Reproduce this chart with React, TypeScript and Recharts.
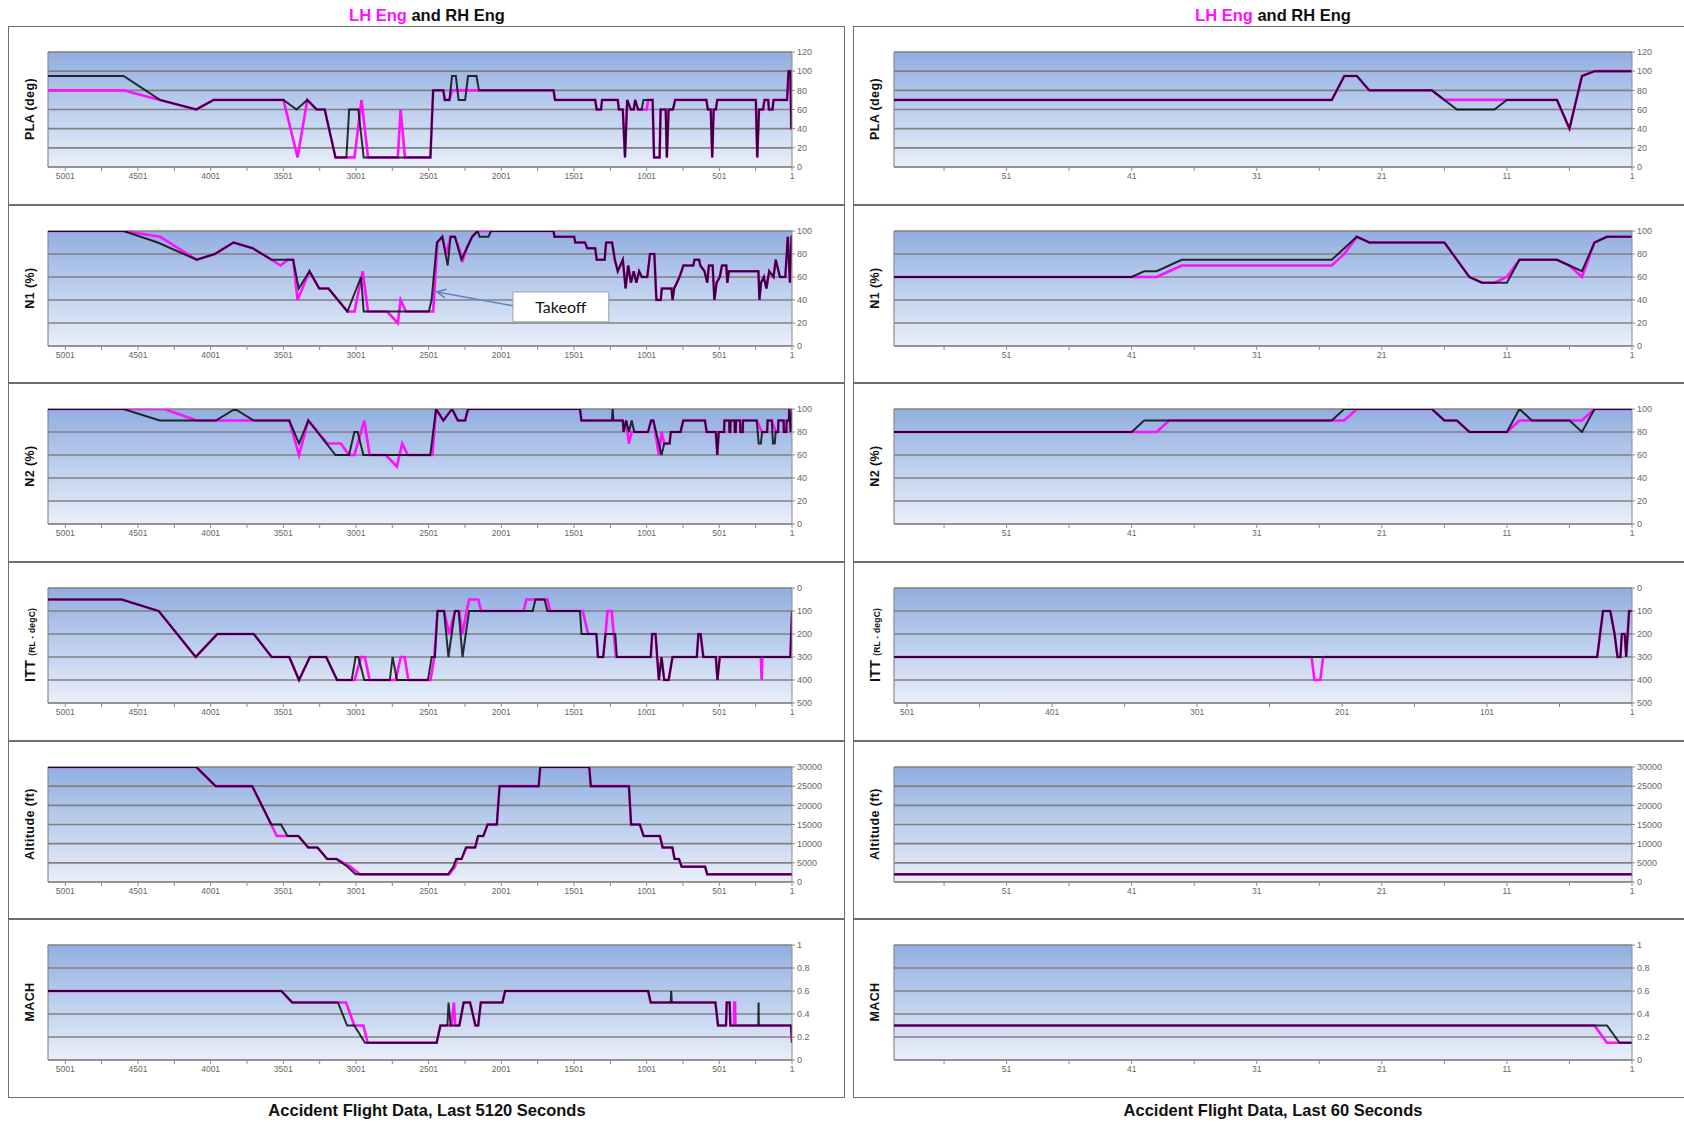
import React from 'react'
import { LineChart, Line, XAxis, YAxis, CartesianGrid, ReferenceLine, ReferenceArea } from 'recharts'

// x ticks (seconds before end of record)
const LEFT_TICKS = [5001, 4751, 4501, 4251, 4001, 3751, 3501, 3251, 3001, 2751, 2501, 2251, 2001, 1751, 1501, 1251, 1001, 751, 501, 251, 1]
const LEFT_LABELS = [5001, 4501, 4001, 3501, 3001, 2501, 2001, 1501, 1001, 501, 1]
const RIGHT_TICKS = [56, 51, 46, 41, 36, 31, 26, 21, 16, 11, 6, 1]
const RIGHT_LABELS = [51, 41, 31, 21, 11, 1]
const ITT_R_TICKS = [501, 451, 401, 351, 301, 251, 201, 151, 101, 51, 1]
const ITT_R_LABELS = [501, 401, 301, 201, 101, 1]

// y ticks
const PLA_TICKS = [0, 20, 40, 60, 80, 100, 120]
const PCT_TICKS = [0, 20, 40, 60, 80, 100]
const ITT_TICKS = [0, 100, 200, 300, 400, 500]
const ALT_TICKS = [0, 5000, 10000, 15000, 20000, 25000, 30000]
const MACH_TICKS = [0, 0.2, 0.4, 0.6, 0.8, 1]

// series: flat lists of [t, value] pairs. LH = magenta, RH = black
// --- last 5120 seconds ---
const PLA_L_LH = [5120, 80, 4600, 80, 4350, 70, 4100, 60, 3980, 70, 3500, 70, 3403, 10, 3336, 70, 3272, 60, 3216, 60, 3142, 10, 3011, 10, 2963, 70, 2918, 10, 2713, 10, 2694, 60, 2664, 10, 2489, 10, 2470, 80, 2400, 80, 2390, 70, 2358, 70, 2340, 80, 1642, 80, 1631, 70, 1355, 70, 1345, 60, 1315, 60, 1308, 70, 1200, 70, 1192, 60, 1165, 60, 1150, 10, 1135, 70, 1110, 60, 1090, 60, 1080, 70, 1060, 60, 1000, 60, 990, 70, 960, 70, 950, 10, 912, 10, 905, 60, 870, 60, 862, 10, 850, 60, 820, 60, 805, 70, 590, 70, 580, 60, 560, 60, 550, 10, 540, 60, 525, 60, 515, 70, 250, 70, 240, 10, 228, 60, 200, 60, 190, 70, 165, 70, 160, 60, 135, 60, 128, 70, 35, 70, 25, 100, 12, 100, 6, 40, 1, 40]
const PLA_L_RH = [5120, 95, 4600, 95, 4350, 70, 4100, 60, 3980, 70, 3500, 70, 3410, 60, 3336, 70, 3272, 60, 3216, 60, 3142, 10, 3067, 10, 3048, 60, 2985, 60, 2948, 10, 2489, 10, 2470, 80, 2400, 80, 2390, 70, 2358, 70, 2340, 95, 2314, 95, 2295, 70, 2250, 70, 2230, 95, 2172, 95, 2155, 80, 1642, 80, 1631, 70, 1355, 70, 1345, 60, 1315, 60, 1308, 70, 1200, 70, 1192, 60, 1165, 60, 1150, 10, 1135, 70, 1110, 60, 1090, 60, 1080, 70, 1060, 60, 1035, 60, 1023, 70, 960, 70, 950, 10, 912, 10, 905, 60, 870, 60, 862, 10, 850, 60, 820, 60, 805, 70, 590, 70, 580, 60, 560, 60, 550, 10, 540, 60, 525, 60, 515, 70, 250, 70, 240, 10, 228, 60, 200, 60, 190, 70, 165, 70, 160, 60, 135, 60, 128, 70, 35, 70, 25, 100, 12, 100, 6, 40, 1, 60]

const N1_TAIL = [1642, 100, 1635, 95, 1500, 95, 1492, 90, 1425, 90, 1410, 85, 1355, 85, 1345, 75, 1290, 75, 1280, 90, 1239, 90, 1220, 75, 1200, 65, 1165, 75, 1146, 50, 1128, 70, 1109, 55, 1090, 65, 1072, 55, 1053, 65, 1034, 60, 997, 60, 978, 80, 948, 80, 934, 40, 904, 40, 897, 50, 830, 50, 823, 40, 812, 50, 793, 55, 775, 60, 748, 70, 680, 70, 672, 75, 640, 75, 632, 70, 603, 65, 584, 55, 573, 70, 547, 70, 535, 40, 520, 55, 498, 60, 483, 70, 453, 70, 446, 55, 435, 65, 232, 65, 225, 40, 214, 55, 195, 60, 177, 50, 158, 65, 128, 60, 113, 75, 84, 60, 47, 60, 30, 95, 15, 55, 5, 95, 1, 95]
const N1_L_LH = [5120, 100, 4600, 100, 4350, 95, 4097, 75, 3973, 80, 3843, 90, 3712, 85, 3581, 75, 3520, 70, 3470, 75, 3433, 75, 3403, 40, 3321, 65, 3254, 50, 3190, 50, 3060, 30, 3011, 30, 2955, 65, 2918, 30, 2787, 30, 2713, 20, 2694, 40, 2657, 30, 2470, 30, 2440, 90, 2407, 95, 2380, 80, 2350, 95, 2320, 95, 2265, 75, 2239, 85, 2202, 95, 2164, 100, ...N1_TAIL]
const N1_L_RH = [5120, 100, 4600, 100, 4365, 90, 4097, 75, 3973, 80, 3843, 90, 3712, 85, 3581, 75, 3433, 75, 3395, 50, 3321, 65, 3254, 50, 3190, 50, 3060, 30, 2966, 60, 2948, 30, 2500, 30, 2481, 40, 2444, 90, 2407, 95, 2370, 70, 2350, 95, 2320, 95, 2276, 75, 2239, 85, 2202, 95, 2164, 100, 2150, 95, 2090, 95, 2071, 100, ...N1_TAIL]

const N2_L_LH = [5120, 100, 4601, 100, 4320, 100, 4097, 90, 3704, 90, 3460, 90, 3393, 60, 3329, 90, 3198, 70, 3105, 70, 3049, 60, 3012, 60, 2944, 90, 2907, 60, 2795, 60, 2720, 50, 2683, 70, 2645, 60, 2475, 60, 2450, 100, 2400, 90, 2340, 100, 2300, 90, 2250, 90, 2230, 100, 1460, 100, 1450, 90, 1165, 90, 1160, 80, 1142, 90, 1123, 70, 1104, 80, 992, 80, 970, 90, 955, 90, 917, 60, 899, 80, 880, 70, 843, 70, 835, 80, 768, 80, 749, 90, 600, 90, 588, 80, 525, 80, 515, 60, 505, 80, 468, 80, 466, 90, 433, 90, 431, 80, 426, 80, 424, 90, 396, 90, 394, 80, 388, 80, 386, 90, 358, 90, 356, 80, 340, 80, 338, 90, 244, 90, 207, 80, 172, 80, 169, 90, 140, 90, 113, 80, 97, 80, 95, 90, 59, 90, 57, 80, 40, 80, 38, 90, 22, 90, 20, 100, 10, 80, 1, 80]
const N2_L_RH = [5120, 100, 4601, 100, 4351, 90, 3965, 90, 3834, 100, 3704, 90, 3460, 90, 3393, 70, 3329, 90, 3142, 60, 3049, 60, 3012, 80, 2990, 80, 2950, 60, 2490, 60, 2480, 70, 2450, 100, 2400, 90, 2340, 100, 2300, 90, 2250, 90, 2230, 100, 1460, 100, 1450, 90, 1240, 90, 1235, 100, 1230, 90, 1165, 90, 1160, 80, 1142, 90, 1123, 80, 1104, 90, 1086, 80, 992, 80, 970, 90, 955, 90, 917, 70, 899, 60, 880, 70, 843, 70, 835, 80, 768, 80, 749, 90, 600, 90, 588, 80, 525, 80, 515, 60, 505, 80, 468, 80, 466, 90, 433, 90, 431, 80, 426, 80, 424, 90, 396, 90, 394, 80, 388, 80, 386, 90, 358, 90, 356, 80, 340, 80, 338, 90, 244, 90, 230, 70, 215, 70, 207, 80, 172, 80, 169, 90, 140, 90, 132, 70, 120, 70, 113, 80, 97, 80, 95, 90, 59, 90, 57, 80, 40, 80, 38, 90, 22, 90, 20, 100, 10, 80, 1, 100]

const ITT_HEAD = [5120, 50, 4612, 50, 4358, 100, 4104, 300, 3955, 200, 3704, 200, 3581, 300, 3460, 300, 3393, 400, 3318, 300, 3206, 300, 3131, 400, 3030, 400]
const ITT_L_LH = [...ITT_HEAD, 3010, 400, 2966, 300, 2940, 300, 2907, 400, 2728, 400, 2693, 300, 2666, 300, 2641, 400, 2488, 400, 2462, 300, 2440, 100, 2395, 100, 2360, 200, 2320, 100, 2290, 100, 2268, 200, 2240, 100, 2222, 50, 2159, 50, 2140, 100, 1848, 100, 1829, 50, 1684, 50, 1665, 100, 1441, 100, 1404, 200, 1347, 200, 1336, 300, 1300, 300, 1284, 200, 1270, 100, 1242, 100, 1212, 300, 973, 300, 963, 200, 940, 200, 917, 400, 899, 300, 880, 400, 850, 400, 823, 300, 656, 300, 645, 200, 630, 200, 611, 300, 525, 300, 514, 400, 498, 300, 215, 300, 210, 400, 205, 300, 12, 300, 1, 100]
const ITT_L_RH = [...ITT_HEAD, 3004, 300, 2985, 300, 2944, 400, 2768, 400, 2749, 300, 2719, 400, 2506, 400, 2480, 300, 2458, 300, 2440, 100, 2395, 100, 2365, 300, 2320, 100, 2295, 100, 2268, 300, 2223, 100, 1785, 100, 1766, 50, 1703, 50, 1684, 100, 1460, 100, 1449, 200, 1347, 200, 1336, 300, 1300, 300, 1284, 200, 1217, 200, 1206, 300, 973, 300, 963, 200, 940, 200, 917, 400, 899, 300, 880, 400, 850, 400, 823, 300, 656, 300, 645, 200, 630, 200, 611, 300, 525, 300, 514, 400, 498, 300, 12, 300, 1, 100]

const ALT_L_LH = [5120, 30000, 4100, 30000, 3966, 25000, 3715, 25000, 3584, 15000, 3546, 12000, 3472, 12000, 3397, 12000, 3330, 9000, 3266, 9000, 3199, 6000, 3135, 6000, 3040, 4000, 2975, 2000, 2360, 2000, 2320, 4000, 2305, 6000, 2275, 6000, 2240, 9000, 2181, 9000, 2160, 12000, 2125, 12000, 2095, 15000, 2032, 15000, 2013, 25000, 1744, 25000, 1733, 30000, 1396, 30000, 1385, 25000, 1123, 25000, 1108, 15000, 1048, 15000, 1022, 12000, 910, 12000, 891, 9000, 824, 9000, 809, 6000, 779, 6000, 760, 4000, 599, 4000, 584, 2000, 1, 2000]
const ALT_L_RH = [5120, 30000, 4100, 30000, 3966, 25000, 3715, 25000, 3584, 15000, 3517, 15000, 3472, 12000, 3397, 12000, 3330, 9000, 3266, 9000, 3199, 6000, 3135, 6000, 3060, 4000, 3004, 2000, 2368, 2000, 2331, 4000, 2312, 6000, 2275, 6000, 2245, 9000, 2181, 9000, 2162, 12000, 2125, 12000, 2095, 15000, 2032, 15000, 2013, 25000, 1744, 25000, 1733, 30000, 1396, 30000, 1385, 25000, 1123, 25000, 1108, 15000, 1048, 15000, 1022, 12000, 910, 12000, 891, 9000, 824, 9000, 809, 6000, 779, 6000, 760, 4000, 599, 4000, 584, 2000, 1, 2000]

const MACH_L_LH = [5120, 0.6, 3514, 0.6, 3440, 0.5, 3069, 0.5, 3013, 0.3, 2950, 0.3, 2921, 0.15, 2446, 0.15, 2420, 0.3, 2345, 0.3, 2327, 0.5, 2318, 0.3, 2290, 0.3, 2260, 0.5, 2216, 0.5, 2179, 0.3, 2160, 0.3, 2142, 0.5, 1993, 0.5, 1975, 0.6, 991, 0.6, 973, 0.5, 528, 0.5, 510, 0.3, 455, 0.3, 450, 0.5, 430, 0.5, 425, 0.3, 400, 0.3, 398, 0.5, 393, 0.5, 390, 0.3, 8, 0.3, 1, 0.15]
const MACH_L_RH = [5120, 0.6, 3514, 0.6, 3440, 0.5, 3125, 0.5, 3062, 0.3, 3013, 0.3, 2939, 0.15, 2446, 0.15, 2420, 0.3, 2372, 0.3, 2364, 0.5, 2350, 0.3, 2290, 0.3, 2260, 0.5, 2216, 0.5, 2179, 0.3, 2160, 0.3, 2142, 0.5, 1993, 0.5, 1975, 0.6, 991, 0.6, 973, 0.5, 836, 0.5, 832, 0.6, 828, 0.5, 528, 0.5, 510, 0.3, 455, 0.3, 450, 0.5, 430, 0.5, 425, 0.3, 233, 0.3, 231, 0.5, 229, 0.3, 8, 0.3, 1, 0.15]

// --- last 60 seconds ---
const PLA_R_LH = [60, 70, 25, 70, 24, 95, 23, 95, 22, 80, 17, 80, 16, 70, 7, 70, 6, 40, 5, 95, 4, 100, 1, 100]
const PLA_R_RH = [60, 70, 25, 70, 24, 95, 23, 95, 22, 80, 17, 80, 15, 60, 12, 60, 11, 70, 7, 70, 6, 40, 5, 95, 4, 100, 1, 100]
const N1_R_LH = [60, 60, 39, 60, 38, 65, 37, 70, 25, 70, 24, 80, 23, 95, 22, 90, 16, 90, 15, 75, 14, 60, 13, 55, 12, 55, 11, 60, 10, 75, 7, 75, 6, 70, 5, 60, 4, 90, 3, 95, 1, 95]
const N1_R_RH = [60, 60, 41, 60, 40, 65, 39, 65, 38, 70, 37, 75, 25, 75, 24, 85, 23, 95, 22, 90, 16, 90, 15, 75, 14, 60, 13, 55, 11, 55, 10, 75, 7, 75, 6, 70, 5, 65, 4, 90, 3, 95, 1, 95]
const N2_R_LH = [60, 80, 39, 80, 38, 90, 24, 90, 23, 100, 17, 100, 16, 90, 15, 90, 14, 80, 11, 80, 10, 90, 5, 90, 4, 100, 1, 100]
const N2_R_RH = [60, 80, 41, 80, 40, 90, 25, 90, 24, 100, 17, 100, 16, 90, 15, 90, 14, 80, 11, 80, 10, 100, 9, 90, 6, 90, 5, 80, 4, 100, 1, 100]
const ITT_R_LH = [510, 300, 222, 300, 220, 400, 216, 400, 214, 300, 25, 300, 21, 100, 16, 100, 13, 200, 11, 300, 9, 300, 8, 200, 6, 200, 5, 300, 3, 100, 1, 100]
const ITT_R_RH = [510, 300, 25, 300, 21, 100, 16, 100, 13, 200, 11, 300, 9, 300, 8, 200, 6, 200, 5, 300, 4, 200, 3, 100, 1, 100]
const ALT_R_LH = [60, 2000, 1, 2000]
const ALT_R_RH = [60, 2000, 1, 2000]
const MACH_R_LH = [60, 0.3, 4, 0.3, 3, 0.15, 1, 0.15]
const MACH_R_RH = [60, 0.3, 3, 0.3, 2, 0.15, 1, 0.15]

const pts = (a: number[]) => {
  const out: { t: number; v: number }[] = []
  for (let i = 0; i < a.length; i += 2) out.push({ t: a[i], v: a[i + 1] })
  return out
}

const MAGENTA = '#ff10ff'
const FONT = "'Liberation Sans', Arial, sans-serif"

type XCfg = { domain: [number, number]; ticks: number[]; labels: number[] }
const X5120: XCfg = { domain: [1, 5120], ticks: LEFT_TICKS, labels: LEFT_LABELS }
const X60: XCfg = { domain: [1, 60], ticks: RIGHT_TICKS, labels: RIGHT_LABELS }
const X510: XCfg = { domain: [1, 510], ticks: ITT_R_TICKS, labels: ITT_R_LABELS }

type PanelDef = {
  label: string
  sub?: string
  yMax: number
  yTicks: number[]
  reversed?: boolean
  x: XCfg
  lh: number[]
  rh: number[]
  takeoff?: boolean
}

const LEFT: PanelDef[] = [
  { label: 'PLA (deg)', yMax: 120, yTicks: PLA_TICKS, x: X5120, lh: PLA_L_LH, rh: PLA_L_RH },
  { label: 'N1 (%)', yMax: 100, yTicks: PCT_TICKS, x: X5120, lh: N1_L_LH, rh: N1_L_RH, takeoff: true },
  { label: 'N2 (%)', yMax: 100, yTicks: PCT_TICKS, x: X5120, lh: N2_L_LH, rh: N2_L_RH },
  { label: 'ITT', sub: '(RL - degC)', yMax: 500, yTicks: ITT_TICKS, reversed: true, x: X5120, lh: ITT_L_LH, rh: ITT_L_RH },
  { label: 'Altitude (ft)', yMax: 30000, yTicks: ALT_TICKS, x: X5120, lh: ALT_L_LH, rh: ALT_L_RH },
  { label: 'MACH', yMax: 1, yTicks: MACH_TICKS, x: X5120, lh: MACH_L_LH, rh: MACH_L_RH },
]
const RIGHT: PanelDef[] = [
  { label: 'PLA (deg)', yMax: 120, yTicks: PLA_TICKS, x: X60, lh: PLA_R_LH, rh: PLA_R_RH },
  { label: 'N1 (%)', yMax: 100, yTicks: PCT_TICKS, x: X60, lh: N1_R_LH, rh: N1_R_RH },
  { label: 'N2 (%)', yMax: 100, yTicks: PCT_TICKS, x: X60, lh: N2_R_LH, rh: N2_R_RH },
  { label: 'ITT', sub: '(RL - degC)', yMax: 500, yTicks: ITT_TICKS, reversed: true, x: X510, lh: ITT_R_LH, rh: ITT_R_RH },
  { label: 'Altitude (ft)', yMax: 30000, yTicks: ALT_TICKS, x: X60, lh: ALT_R_LH, rh: ALT_R_RH },
  { label: 'MACH', yMax: 1, yTicks: MACH_TICKS, x: X60, lh: MACH_R_LH, rh: MACH_R_RH },
]

const Arrow = (p: any) => {
  const { x1, y1, x2, y2 } = p
  const a = Math.atan2(y2 - y1, x2 - x1)
  const L = 10
  const p1 = `${x2 + L * Math.cos(a + Math.PI - 0.45)},${y2 + L * Math.sin(a + Math.PI - 0.45)}`
  const p2 = `${x2 + L * Math.cos(a + Math.PI + 0.45)},${y2 + L * Math.sin(a + Math.PI + 0.45)}`
  return (
    <g>
      <line x1={x1} y1={y1} x2={x2} y2={y2} stroke="#5b87c0" strokeWidth={1.6} />
      <polyline points={`${p1} ${x2},${y2} ${p2}`} fill="none" stroke="#5b87c0" strokeWidth={1.6} />
    </g>
  )
}

const TOP = 26
const PITCH = 178.67

function Panel({ def, idx, left, width, noRight, gid }: { def: PanelDef; idx: number; left: number; width: number; noRight?: boolean; gid: string }) {
  const top = Math.round(TOP + idx * PITCH)
  const h = Math.round(TOP + (idx + 1) * PITCH) - top
  const innerW = width - (noRight ? 1 : 2)
  const innerH = h - 2
  const mLeft = noRight ? 40 : 39
  const mRight = 8
  const fmtX = (v: number) => (def.x.labels.includes(v) ? String(v) : '')
  return (
    <div
      style={{
        position: 'absolute', left, top, width, height: h, boxSizing: 'border-box',
        border: '1px solid #6f6f6f', borderRight: noRight ? 'none' : '1px solid #6f6f6f', background: '#fff',
      }}
    >
      <div
        style={{
          position: 'absolute', left: 21, top: 82, transform: 'translate(-50%, -50%) rotate(-90deg)',
          whiteSpace: 'nowrap', fontFamily: FONT, fontWeight: 'bold', fontSize: def.sub ? 14 : 12.5, color: '#111', letterSpacing: 0.4,
        }}
      >
        {def.label}
        {def.sub ? <span style={{ fontSize: 8.5, marginLeft: 4, letterSpacing: 0.2 }}>{def.sub}</span> : null}
      </div>
      <LineChart
        width={innerW}
        height={innerH}
        margin={{ top: 25, right: mRight, bottom: innerH - 25 - 115 - 28, left: mLeft }}
        style={{ position: 'absolute', left: 0, top: 0, fontFamily: FONT }}
      >
        <defs>
          <linearGradient id={gid} x1="0" y1="0" x2="0" y2="1">
            <stop offset="0" stopColor="#92aee0" />
            <stop offset="0.5" stopColor="#bccfee" />
            <stop offset="1" stopColor="#eaeff9" />
          </linearGradient>
        </defs>
        <CartesianGrid vertical={false} stroke="#808080" strokeWidth={1.6} fill={`url(#${gid})`} fillOpacity={1} />
        <XAxis
          type="number"
          dataKey="t"
          domain={def.x.domain}
          reversed
          allowDataOverflow
          ticks={def.x.ticks}
          interval={0}
          tickFormatter={fmtX}
          tickSize={4}
          tick={{ fontSize: 8.5, fill: '#666', fontFamily: FONT }}
          stroke="#8a8a8a"
          height={28}
        />
        <YAxis
          orientation="right"
          type="number"
          domain={[0, def.yMax]}
          reversed={def.reversed}
          allowDataOverflow
          ticks={def.yTicks}
          interval={0}
          tickSize={3}
          tick={{ fontSize: 9, fill: '#666', fontFamily: FONT }}
          stroke="#8a8a8a"
          width={44}
        />
        <ReferenceLine x={def.x.domain[1]} stroke="#8a8a8a" strokeWidth={1.2} />
        {def.takeoff ? (
          <ReferenceArea
            x1={1921}
            x2={1262}
            y1={21}
            y2={47}
            fill="#ffffff"
            fillOpacity={1}
            stroke="#a0a0a0"
            label={{ value: 'Takeoff', position: 'center', fontSize: 16, fill: '#111', fontFamily: 'Lato, sans-serif' }}
          />
        ) : null}
        {def.takeoff ? (
          <ReferenceLine segment={[{ x: 1921, y: 35 }, { x: 2444, y: 47 }]} shape={Arrow} />
        ) : null}
        <Line data={pts(def.lh)} dataKey="v" stroke={MAGENTA} strokeWidth={2.6} dot={false} isAnimationActive={false} />
        <Line data={pts(def.rh)} dataKey="v" stroke="#000000" strokeOpacity={0.8} strokeWidth={2} dot={false} isAnimationActive={false} />
      </LineChart>
    </div>
  )
}

function Title({ cx, top, children }: { cx: number; top: number; children: React.ReactNode }) {
  return (
    <div
      style={{
        position: 'absolute', left: cx, top, transform: 'translateX(-50%)', whiteSpace: 'nowrap',
        fontFamily: FONT, fontWeight: 'bold', fontSize: 16.5, color: '#111',
      }}
    >
      {children}
    </div>
  )
}

export default function App() {
  return (
    <div style={{ position: 'absolute', left: 0, top: 0, width: 1684, height: 1122, overflow: 'hidden', background: '#fff' }}>
      <Title cx={427} top={6}>
        <span style={{ color: MAGENTA }}>LH Eng</span> and RH Eng
      </Title>
      <Title cx={1273} top={6}>
        <span style={{ color: MAGENTA }}>LH Eng</span> and RH Eng
      </Title>
      {LEFT.map((d, i) => (
        <Panel key={'l' + i} def={d} idx={i} left={8} width={837} gid={'gl' + i} />
      ))}
      {RIGHT.map((d, i) => (
        <Panel key={'r' + i} def={d} idx={i} left={853} width={831} noRight gid={'gr' + i} />
      ))}
      <Title cx={427} top={1101}>Accident Flight Data, Last 5120 Seconds</Title>
      <Title cx={1273} top={1101}>Accident Flight Data, Last 60 Seconds</Title>
    </div>
  )
}
